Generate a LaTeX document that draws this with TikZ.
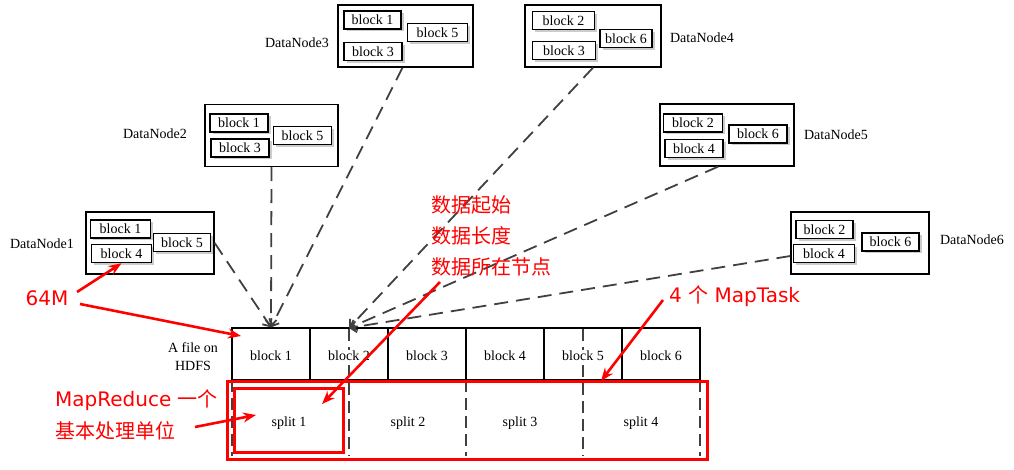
\documentclass[tikz,border=0pt]{standalone}
\usepackage{fontspec}
\setmainfont{Liberation Serif}
\newfontfamily\cjk{Noto Sans CJK SC}
\newfontfamily\rsf{DejaVu Sans}
\usetikzlibrary{arrows.meta,shadows,calc}
\begin{document}
\begin{tikzpicture}[x=1pt,y=-1pt,
 txt/.style={font=\fontsize{14}{17}\selectfont, inner sep=0pt},
 dn/.style={draw, line width=1.4pt, inner sep=0pt, minimum height=62pt},
 ib/.style={draw, line width=1.6pt, fill=white, inner sep=0pt, minimum height=18pt, font=\fontsize{14}{16}\selectfont, drop shadow={shadow xshift=2.5pt, shadow yshift=-2.5pt, fill=black!20, opacity=1}},
 fb/.style={draw, line width=1.3pt, minimum width=78pt, minimum height=52pt, inner sep=0pt},
 lab/.style={font=\fontsize{14}{16}\selectfont, fill=white, inner sep=1pt},
 dcon/.style={draw=black!75, line width=1.8pt, dash pattern=on 14pt off 8pt, -{Straight Barb[length=6pt,width=11pt]}},
 sdash/.style={draw=black!75, line width=1.5pt, dash pattern=on 12pt off 6pt},
 ra/.style={draw=red, line width=2.6pt, -{Stealth[length=13pt,width=10pt]}},
 rbox/.style={draw=red, line width=3pt, inner sep=0pt},
 rt/.style={text=red, font=\fontsize{20}{24}\selectfont\rsf, inner sep=0pt},
 ct/.style={text=red, font=\fontsize{20}{24}\selectfont\cjk, inner sep=0pt}
]
\useasboundingbox (0,0) rectangle (1014,470);

% DataNode 1
\node[dn, minimum width=128pt] (dn1) at (150,243) {};
\node[ib, minimum width=60pt] (dn1a) at (120.5,229) {block 1};
\node[ib, minimum width=60pt] (dn1b) at (121.5,253.5) {block 4};
\node[ib, minimum width=57pt] (dn1c) at (182,242.5) {block 5};
\node[txt] (dn1l) at (42,244) {DataNode1};

% DataNode 2
\node[dn, minimum width=133pt] (dn2) at (271.5,135.5) {};
\node[ib, minimum width=58pt] (dn2a) at (239,123) {block 1};
\node[ib, minimum width=58pt] (dn2b) at (240,148) {block 3};
\node[ib, minimum width=58pt] (dn2c) at (302.5,135.5) {block 5};
\node[txt] (dn2l) at (155,134) {DataNode2};

% DataNode 3
\node[dn, minimum width=135pt] (dn3) at (405.5,36) {};
\node[ib, minimum width=57pt] (dn3a) at (372.5,20) {block 1};
\node[ib, minimum width=58pt] (dn3b) at (373,51.5) {block 3};
\node[ib, minimum width=60pt] (dn3c) at (437.5,32.5) {block 5};
\node[txt] (dn3l) at (297,43) {DataNode3};

% DataNode 4
\node[dn, minimum width=136pt] (dn4) at (593,36) {};
\node[ib, minimum width=62pt] (dn4a) at (563.5,20.5) {block 2};
\node[ib, minimum width=63pt] (dn4b) at (564,50.5) {block 3};
\node[ib, minimum width=52pt] (dn4c) at (626,38.5) {block 6};
\node[txt] (dn4l) at (702,38) {DataNode4};

% DataNode 5
\node[dn, minimum width=134pt] (dn5) at (727,135) {};
\node[ib, minimum width=59pt] (dn5a) at (693,123) {block 2};
\node[ib, minimum width=58pt] (dn5b) at (694,148.5) {block 4};
\node[ib, minimum width=58pt] (dn5c) at (758,134) {block 6};
\node[txt] (dn5l) at (836,135) {DataNode5};

% DataNode 6
\node[dn, minimum width=138pt] (dn6) at (860,243) {};
\node[ib, minimum width=57pt] (dn6a) at (824.5,229.5) {block 2};
\node[ib, minimum width=61pt] (dn6b) at (824,253.5) {block 4};
\node[ib, minimum width=57pt] (dn6c) at (890.5,242) {block 6};
\node[txt] (dn6l) at (972,240) {DataNode6};

% file blocks
\node[fb] (fb1) at (271,354) {};
\node[fb] (fb2) at (349,354) {};
\node[fb] (fb3) at (427,354) {};
\node[fb] (fb4) at (505,354) {};
\node[fb] (fb5) at (583,354) {};
\node[fb] (fb6) at (661,354) {};
\node[txt, align=center, font=\fontsize{14}{18}\selectfont] (hdfs) at (193,357) {A file on\\HDFS};

% split dashed lines
\coordinate (d1t) at (232,380); \coordinate (d1b) at (232,456);
\coordinate (d2t) at (349,329); \coordinate (d2b) at (349,456);
\coordinate (d3t) at (466,380); \coordinate (d3b) at (466,456);
\coordinate (d4t) at (583,329); \coordinate (d4b) at (583,456);
\coordinate (d5t) at (700,380); \coordinate (d5b) at (700,456);
\draw[sdash] (d1t) -- (d1b);
\draw[sdash] (d2t) -- (d2b);
\draw[sdash] (d3t) -- (d3b);
\draw[sdash] (d4t) -- (d4b);
\draw[sdash] (d5t) -- (d5b);

% block labels
\node[lab] (fb1t) at (271,356) {block 1};
\node[lab] (fb2t) at (349,356) {block 2};
\node[lab] (fb3t) at (427,356) {block 3};
\node[lab] (fb4t) at (505,356) {block 4};
\node[lab] (fb5t) at (583,356) {block 5};
\node[lab] (fb6t) at (661,356) {block 6};

% split labels
\node[txt] (s1) at (289,423) {split 1};
\node[txt] (s2) at (408,423) {split 2};
\node[txt] (s3) at (520,423) {split 3};
\node[txt] (s4) at (641,423) {split 4};

% dashed connectors
\coordinate (t2) at (349,328);
\draw[dcon] (dn1.east) -- (fb1.north);
\draw[dcon] (dn2.south) -- (fb1.north);
\draw[dcon] ($(dn3.south)+(-3,0)$) -- (fb1.north);
\draw[dcon] (dn4.south) -- (t2);
\draw[dcon] ($(dn5.south)+(-9,0)$) -- (t2);
\draw[dcon] ($(dn6.west)+(0,13)$) -- (t2);

% red boxes
\node[rbox, minimum width=480pt, minimum height=78pt] (big) at (467,420) {};
\node[rbox, minimum width=109pt, minimum height=64pt] (small) at (288.5,420) {};

% red texts
\node[rt] (m64) at (47,298) {64M};
\node[ct, anchor=west] (c1) at (431,205) {数据起始};
\node[ct, anchor=west] (c2) at (431,236) {数据长度};
\node[ct, anchor=west] (c3) at (431,267) {数据所在节点};
\node[rt, anchor=west] (mt) at (669,296) {4 {\cjk 个} MapTask};
\node[rt, anchor=west] (mr) at (55,400) {MapReduce {\cjk 一个}};
\node[ct, anchor=west] (jb) at (55,431) {基本处理单位};

% red arrows
\coordinate (a64s1) at (77,292);
\coordinate (a64s2) at (80,304);
\coordinate (a64e2) at (241,336);
\coordinate (cds) at (440,282);
\coordinate (cde) at (322,404);
\coordinate (mts) at (663,300);
\coordinate (mte) at (601,381);
\coordinate (mrs) at (195,427);
\coordinate (mre) at (256,415);
\draw[ra] (a64s1) -- (dn1b.south);
\draw[ra] (a64s2) -- (a64e2);
\draw[ra] (cds) -- (cde);
\draw[ra] (mts) -- (mte);
\draw[ra] (mrs) -- (mre);
\end{tikzpicture}
\end{document}
